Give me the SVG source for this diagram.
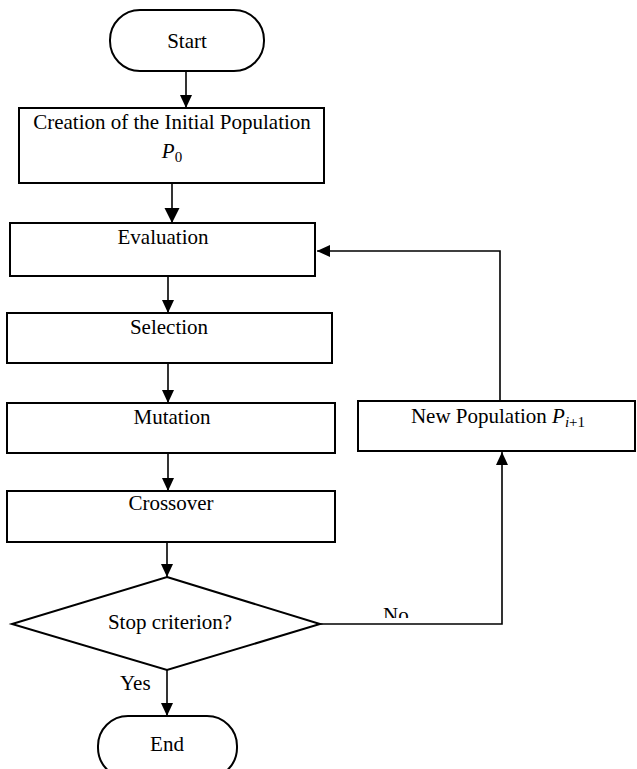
<svg xmlns="http://www.w3.org/2000/svg" width="637" height="769" viewBox="0 0 637 769">
<style>
  .box { fill: #fff; stroke: #000; stroke-width: 2; }
  .conn { fill: none; stroke: #000; stroke-width: 1.6; }
  .t { font-family: "Liberation Serif", "Times New Roman", serif; font-size: 21px; fill: #000; text-anchor: middle; }
  .m { font-family: "Liberation Serif", "Times New Roman", serif; font-style: italic; }
  .lbl { font-family: "Liberation Serif", "Times New Roman", serif; font-size: 21px; fill: #000; }
</style>
<defs>
  <marker id="ah" markerUnits="userSpaceOnUse" markerWidth="12" markerHeight="12" refX="13" refY="6" orient="auto">
    <path d="M0,0 L13,6 L0,12 z" fill="#000"/>
  </marker>
  <marker id="ahL" markerUnits="userSpaceOnUse" markerWidth="16" markerHeight="16" refX="15" refY="7.5" orient="auto">
    <path d="M0,0 L15,7.5 L0,15 z" fill="#000"/>
  </marker>
  <clipPath id="noclip"><rect x="370" y="595" width="60" height="23"/></clipPath>
</defs>

<g id="connectors">
  <line class="conn" x1="186" y1="71" x2="186" y2="108" marker-end="url(#ah)"/>
  <line class="conn" x1="172" y1="183" x2="172" y2="223" marker-end="url(#ahL)"/>
  <line class="conn" x1="168" y1="276" x2="168" y2="313" marker-end="url(#ah)"/>
  <line class="conn" x1="168" y1="363" x2="168" y2="403" marker-end="url(#ah)"/>
  <line class="conn" x1="168" y1="453" x2="168" y2="491" marker-end="url(#ah)"/>
  <line class="conn" x1="167" y1="542" x2="167" y2="577" marker-end="url(#ah)"/>
  <line class="conn" x1="167" y1="670" x2="167" y2="716" marker-end="url(#ah)"/>
  <polyline class="conn" points="320,624 502,624 502,452" marker-end="url(#ah)"/>
  <polyline class="conn" points="500,401 500,251 317,251" marker-end="url(#ah)"/>
  <text class="lbl" x="383" y="622" clip-path="url(#noclip)">No</text>
  <text class="lbl" x="120" y="690">Yes</text>
</g>

<g id="start">
  <rect class="box" x="110" y="10" width="154" height="61" rx="30" ry="30"/>
  <text class="t" x="187" y="48">Start</text>
</g>

<g id="init">
  <rect class="box" x="19" y="108" width="305" height="75"/>
  <text class="t" x="172" y="129">Creation of the Initial Population</text>
  <text class="t" x="172" y="158"><tspan class="m">P</tspan><tspan font-size="15" dy="4">0</tspan></text>
</g>

<g id="evaluation">
  <rect class="box" x="10" y="223" width="305" height="53"/>
  <text class="t" x="163" y="244">Evaluation</text>
</g>

<g id="selection">
  <rect class="box" x="7" y="313" width="325" height="50"/>
  <text class="t" x="169" y="334">Selection</text>
</g>

<g id="mutation">
  <rect class="box" x="7" y="403" width="328" height="50"/>
  <text class="t" x="172" y="424">Mutation</text>
</g>

<g id="crossover">
  <rect class="box" x="7" y="491" width="328" height="51"/>
  <text class="t" x="171" y="510">Crossover</text>
</g>

<g id="stop">
  <polygon class="box" points="167,577 320,624 167,670 12,624"/>
  <text class="t" x="170" y="629">Stop criterion?</text>
</g>

<g id="newpop">
  <rect class="box" x="358" y="401" width="277" height="50"/>
  <text class="t" x="498" y="423">New Population <tspan class="m">P</tspan><tspan font-size="15" dy="4" class="m">i</tspan><tspan font-size="15">+1</tspan></text>
</g>

<g id="end">
  <rect class="box" x="98" y="716" width="139" height="62" rx="30" ry="30"/>
  <text class="t" x="167" y="751">End</text>
</g>
</svg>
